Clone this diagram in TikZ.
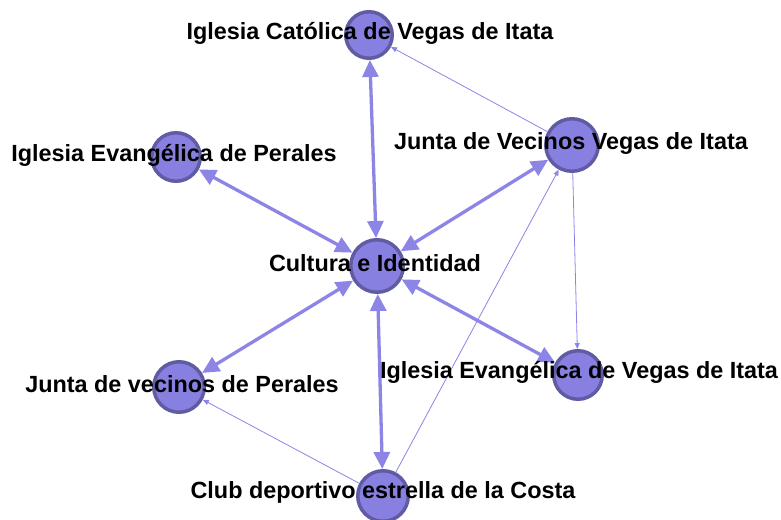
\documentclass[tikz,border=0pt]{standalone}
\usepackage{fontspec}
\setmainfont{Liberation Sans}
\usetikzlibrary{arrows.meta}
\definecolor{actorfill}{RGB}{136,128,224}
\definecolor{actorline}{RGB}{96,92,164}
\definecolor{tiecol}{RGB}{140,133,230}

\begin{document}
\begin{tikzpicture}[x=1pt,y=-1pt]
\tikzset{
  actor/.style={circle, draw=actorline, fill=actorfill, line width=3.5pt, inner sep=0pt, minimum size=#1},
  lbl/.style={inner sep=0pt, font=\fontsize{23.4}{26}\selectfont\bfseries},
  tie/.style={draw=tiecol, line width=3.3pt, {Triangle[length=17pt,width=16pt]}-{Triangle[length=17pt,width=16pt]}},
  link/.style={draw=tiecol, line width=0.8pt, -{Triangle[length=6pt,width=5pt]}}
}
\useasboundingbox (0,0) rectangle (781,519);
% actors
\node[actor=46.5] (cat) at (369,35) {};
\node[actor=52.5] (jvv) at (572,145) {};
\node[actor=48.5] (iep) at (176,157) {};
\node[actor=52.5] (cul) at (377,266) {};
\node[actor=48.5] (iev) at (578,375) {};
\node[actor=50.5] (jvp) at (179,387) {};
\node[actor=50.5] (club) at (383,496) {};
% ties with Cultura e Identidad
\foreach \n in {cat,jvv,iep,iev,jvp,club}
  \draw[tie] (cul) -- (\n);
% other links
\draw[link] (jvv) -- (cat);
\draw[link] (jvv) -- (iev);
\draw[link] (club) -- (jvv);
\draw[link] (club) -- (jvp);
% labels
\node[lbl] (catL) at (370,33) {Iglesia Católica de Vegas de Itata};
\node[lbl] (jvvL) at (571,143) {Junta de Vecinos Vegas de Itata};
\node[lbl] (iepL) at (174,155) {Iglesia Evangélica de Perales};
\node[lbl] (culL) at (375,263) {Cultura e Identidad};
\node[lbl] (ievL) at (579,372) {Iglesia Evangélica de Vegas de Itata};
\node[lbl] (jvpL) at (182,384) {Junta de vecinos de Perales};
\node[lbl] (clubL) at (383,492) {Club deportivo estrella de la Costa};
\end{tikzpicture}
\end{document}
